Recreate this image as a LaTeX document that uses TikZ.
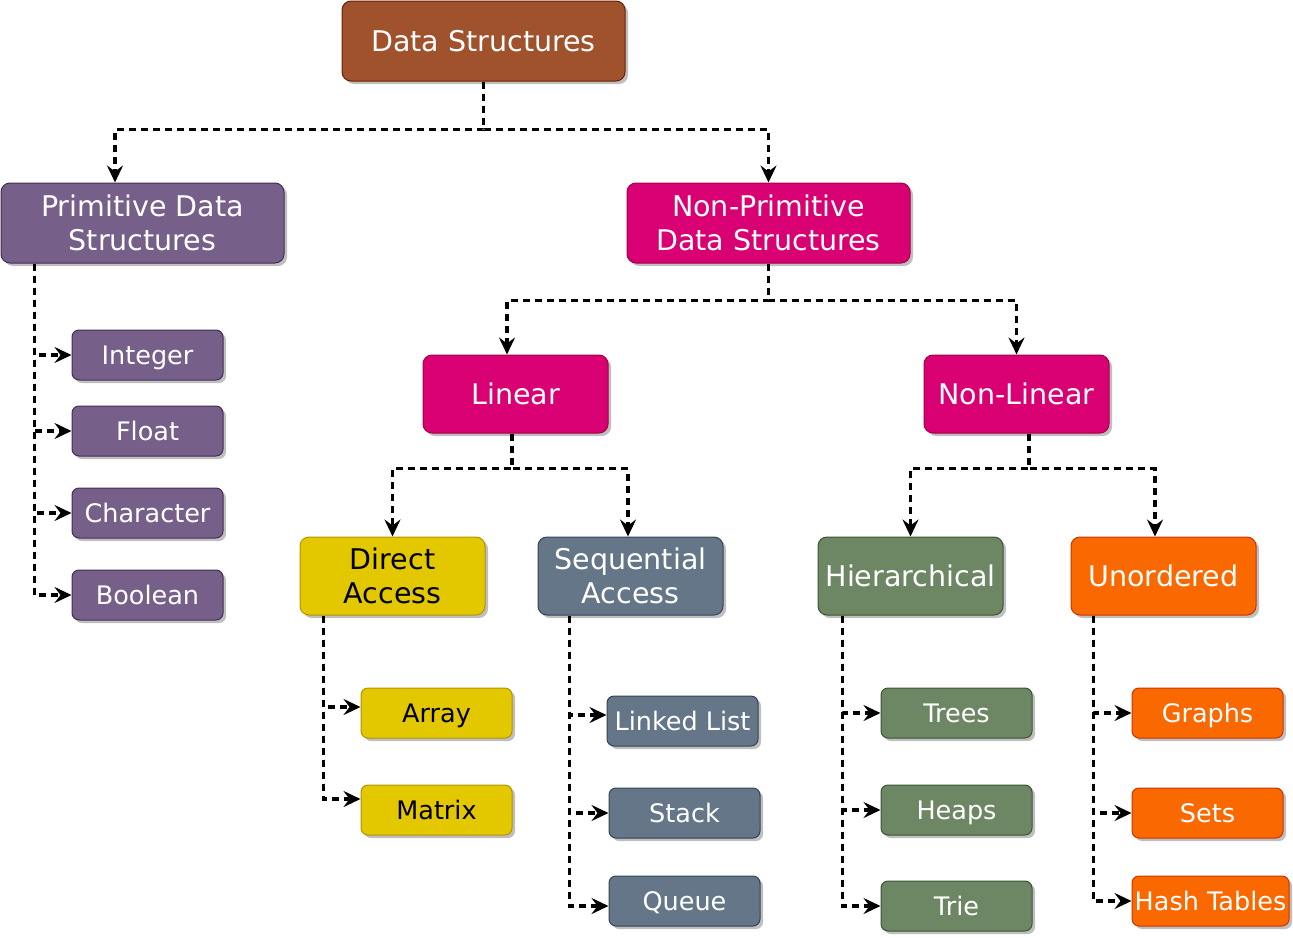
\documentclass[tikz,border=0pt]{standalone}
\usepackage{fontspec}
\setmainfont{DejaVu Sans}
\usetikzlibrary{arrows.meta,shadows}
\definecolor{rootfill}{HTML}{A0522D}
\definecolor{rootline}{HTML}{6D1F00}
\definecolor{primfill}{HTML}{76608A}
\definecolor{primline}{HTML}{432D57}
\definecolor{nonfill}{HTML}{D80073}
\definecolor{nonline}{HTML}{A50040}
\definecolor{dirfill}{HTML}{E3C800}
\definecolor{dirline}{HTML}{B09500}
\definecolor{seqfill}{HTML}{647687}
\definecolor{seqline}{HTML}{314354}
\definecolor{hierfill}{HTML}{6D8764}
\definecolor{hierline}{HTML}{3A5431}
\definecolor{unfill}{HTML}{FA6800}
\definecolor{unline}{HTML}{C73500}
\begin{document}
\begin{tikzpicture}[x=1pt,y=-1pt,
  box/.style={rectangle, rounded corners=9pt, draw, line width=1pt, text=white, align=center, inner sep=2pt, minimum width=283pt, minimum height=80pt, font=\fontsize{28.5}{34}\selectfont, drop shadow={shadow xshift=3pt,shadow yshift=-3pt,fill=black!25,opacity=1}},
  mid/.style={box, minimum width=185pt, minimum height=78pt},
  single/.style={text height=20.8pt, text depth=0pt},
  leaf/.style={box, rounded corners=7pt, minimum width=151pt, minimum height=50pt, text height=18.6pt, text depth=0pt, font=\fontsize{25.5}{30}\selectfont},
  root/.style={fill=rootfill, draw=rootline},
  prim/.style={fill=primfill, draw=primline},
  non/.style={fill=nonfill, draw=nonline},
  dir/.style={fill=dirfill, draw=dirline, text=black},
  seq/.style={fill=seqfill, draw=seqline},
  hier/.style={fill=hierfill, draw=hierline},
  unord/.style={fill=unfill, draw=unline},
  conn/.style={line width=3.3pt, dash pattern=on 7pt off 5pt, -{Stealth[length=17pt,width=16pt,inset=6pt]}}]
\useasboundingbox (0,0) rectangle (1293,937);
\node [box, single, root] (z) at (483.5,41) {Data Structures};
\node [box, prim] (a) at (142.5,223) {Primitive Data\\Structures};
\node [box, non] (f) at (768.5,223) {Non-Primitive\\Data Structures};
\node [leaf, prim] (b) at (147.5,355) {Integer};
\node [leaf, prim] (c) at (147.5,431) {Float};
\node [leaf, prim] (d) at (147.5,513) {Character};
\node [leaf, prim] (e) at (147.5,595) {Boolean};
\node [mid, single, non] (g) at (515.5,394) {Linear};
\node [mid, single, non] (h) at (1016.5,394) {Non-Linear};
\node [mid, dir] (i) at (392.5,576) {Direct\\Access};
\node [mid, seq] (j) at (630.5,576) {Sequential\\Access};
\node [mid, single, hier] (k) at (910.5,576) {Hierarchical};
\node [mid, single, unord] (l) at (1163.5,576) {Unordered};
\node [leaf, dir] (m) at (436.5,713) {Array};
\node [leaf, dir] (n) at (436.5,810) {Matrix};
\node [leaf, seq] (o) at (682.5,721) {Linked List};
\node [leaf, seq] (p) at (684.5,813) {Stack};
\node [leaf, seq] (q) at (684.5,901) {Queue};
\node [leaf, hier] (r) at (956.5,713) {Trees};
\node [leaf, hier] (s) at (956.5,810) {Heaps};
\node [leaf, hier] (t) at (956.5,906) {Trie};
\node [leaf, unord] (u) at (1207.5,713) {Graphs};
\node [leaf, unord] (v) at (1207.5,813) {Sets};
\node [leaf, unord, minimum width=157pt] (w) at (1210.5,901) {Hash Tables};
\draw [conn] (z.south) -- ++(0,48) -| ([xshift=-27.5pt]a.north);
\draw [conn] (z.south) -- ++(0,48) -| (f.north);
\foreach \c in {b,c,d,e}
  \draw [conn] ([xshift=34pt]a.south west) |- (\c.west);
\draw [conn] (f.south) -- ++(0,37) -| ([xshift=-8.5pt]g.north);
\draw [conn] (f.south) -- ++(0,37) -| (h.north);
\draw [conn] ([xshift=-3.5pt]g.south) -- ++(0,35) -| (i.north);
\draw [conn] ([xshift=-3.5pt]g.south) -- ++(0,35) -| ([xshift=-2.5pt]j.north);
\draw [conn] ([xshift=12.5pt]h.south) -- ++(0,35) -| (k.north);
\draw [conn] ([xshift=12.5pt]h.south) -- ++(0,35) -| ([xshift=-8.5pt]l.north);
\draw [conn] ([xshift=24pt]i.south west) |- ([yshift=6pt]m.west);
\draw [conn] ([xshift=24pt]i.south west) |- ([yshift=11pt]n.west);
\draw [conn] ([xshift=32pt]j.south west) |- ([yshift=6pt]o.west);
\draw [conn] ([xshift=32pt]j.south west) |- (p.west);
\draw [conn] ([xshift=32pt]j.south west) |- ([yshift=-5pt]q.west);
\foreach \c in {r,s,t}
  \draw [conn] ([xshift=25pt]k.south west) |- (\c.west);
\foreach \c in {u,v,w}
  \draw [conn] ([xshift=23pt]l.south west) |- (\c.west);
\end{tikzpicture}
\end{document}
